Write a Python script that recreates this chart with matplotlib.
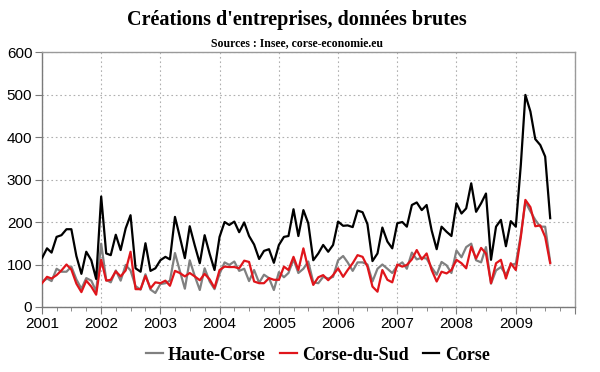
import matplotlib
matplotlib.use("Agg")
import matplotlib.pyplot as plt
import matplotlib.dates as mdates
import pandas as pd

title = "Créations d'entreprises, données brutes"
subtitle = "Sources : Insee, corse-economie.eu"
series_names = ["Haute-Corse", "Corse-du-Sud", "Corse"]
start_month = "2001-01-01"
year_ticks = list(range(2001, 2011))
year_labels = [str(y) for y in range(2001, 2010)] + [""]
y_ticks = [0, 100, 200, 300, 400, 500, 600]

haute_corse = [
    59, 67, 61, 90, 83, 83, 95, 65, 43, 68, 62, 37,        # 2001
    149, 64, 58, 86, 62, 99, 86, 49, 41, 77, 41, 33,       # 2002
    54, 56, 62, 127, 85, 43, 110, 73, 40, 91, 60, 42,      # 2003
    78, 105, 99, 107, 85, 90, 61, 87, 57, 76, 68, 40,      # 2004
    82, 70, 80, 112, 80, 90, 107, 58, 56, 71, 67, 71,      # 2005
    110, 120, 105, 85, 105, 105, 100, 60, 90, 100, 90, 80, # 2006
    97, 105, 90, 128, 112, 116, 114, 93, 76, 106, 98, 80,  # 2007
    133, 117, 141, 149, 110, 105, 141, 55, 86, 94, 76, 99, # 2008
    102, 170, 247, 225, 205, 189, 189, 106,                # 2009
]
corse_du_sud = [
    56, 71, 67, 75, 86, 100, 88, 55, 35, 62, 48, 29,
    111, 62, 64, 84, 72, 86, 130, 42, 42, 73, 44, 58,
    56, 62, 50, 85, 80, 72, 80, 72, 63, 78, 65, 45,
    87, 95, 94, 94, 91, 109, 106, 60, 56, 56, 68, 64,
    64, 95, 87, 118, 87, 138, 90, 52, 70, 75, 63, 75,
    91, 71, 87, 103, 122, 118, 95, 48, 36, 87, 64, 58,
    100, 95, 99, 112, 134, 112, 126, 87, 60, 83, 79, 87,
    111, 103, 91, 142, 114, 139, 126, 56, 103, 111, 67, 103,
    87, 165, 252, 235, 190, 192, 165, 103,
]
corse = [
    115, 138, 128, 165, 169, 183, 183, 120, 78, 130, 110, 66,
    260, 126, 122, 170, 134, 185, 216, 91, 83, 150, 85, 91,
    110, 118, 112, 212, 165, 115, 190, 145, 103, 169, 125, 87,
    165, 200, 193, 201, 176, 199, 167, 147, 113, 132, 136, 104,
    146, 165, 167, 230, 167, 228, 197, 110, 126, 146, 130, 146,
    201, 191, 192, 188, 227, 223, 195, 108, 126, 187, 154, 138,
    197, 200, 189, 240, 246, 228, 240, 180, 136, 189, 177, 167,
    244, 220, 232, 291, 224, 244, 267, 111, 189, 205, 143, 202,
    189, 335, 499, 460, 395, 381, 354, 209,
]

dates = pd.date_range(start_month, periods=len(corse), freq="MS")

fig = plt.figure(figsize=(6.0, 3.72), dpi=100)
ax = fig.add_axes([42 / 600, 1 - 307 / 372, (575 - 42) / 600, (307 - 52) / 372])

ax.plot(dates, haute_corse, color="#808080", lw=1.6, label=series_names[0], zorder=3)
ax.plot(dates, corse_du_sud, color="#e0151b", lw=1.6, label=series_names[1], zorder=4)
ax.plot(dates, corse, color="black", lw=1.6, label=series_names[2], zorder=5)

ax.set_xlim(pd.Timestamp("2001-01-01"), pd.Timestamp("2010-01-01"))
ax.set_ylim(0, 600)
ax.set_yticks(y_ticks)
ax.set_xticks([pd.Timestamp(f"{y}-01-01") for y in year_ticks])
ax.set_xticklabels(year_labels)
ax.xaxis.set_minor_locator(mdates.MonthLocator(bymonth=[4, 7, 10]))

ax.grid(True, which="major", color="#b0b0b0", linestyle=(0, (1.5, 2.5)), lw=0.8)
ax.set_axisbelow(True)

for s in ["top", "right"]:
    ax.spines[s].set_color("#9a9a9a")
for s in ["left", "bottom"]:
    ax.spines[s].set_color("#7a7a7a")
for s in ax.spines.values():
    s.set_linewidth(1.0)

ax.tick_params(axis="both", which="major", direction="out", length=5, color="#7a7a7a",
               labelsize=11, pad=2)
ax.tick_params(axis="x", which="minor", direction="out", length=3, color="#7a7a7a")
for lab in ax.get_xticklabels() + ax.get_yticklabels():
    lab.set_fontfamily("Liberation Sans")

fig.text(0.495, 0.945, title, ha="center", va="center", fontsize=14.5,
         fontweight="bold", family="Liberation Serif")
fig.text(0.495, 0.885, subtitle, ha="center", va="center", fontsize=8.5,
         fontweight="bold", family="Liberation Serif")

leg = fig.legend(loc="center", bbox_to_anchor=(0.53, 0.045), ncol=3, frameon=False,
                 handlelength=0.9, handletextpad=0.3, columnspacing=0.8,
                 prop={"family": "Liberation Serif", "weight": "bold", "size": 13})

fig.savefig("out.png", dpi=100)
